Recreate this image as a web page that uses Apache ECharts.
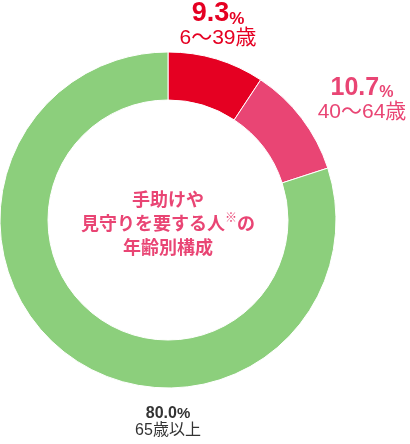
<!DOCTYPE html>
<html><head><meta charset="utf-8">
<script src="https://cdn.jsdelivr.net/npm/echarts@6/dist/echarts.min.js"></script>
<style>html,body{margin:0;padding:0;background:#fff}#c{width:410px;height:444px}</style>
</head><body><div id="c"></div>
<script>
const categories = ['6〜39歳', '40〜64歳', '65歳以上'];
const values = [9.3, 10.7, 80.0];
const colors = ['#e50022', '#e94574', '#8ccf7c'];
const labelColors = ['#e50022', '#e94574', '#333333'];
const centerLines = ['手助けや', '見守りを要する人', '年齢別構成'];

const labelPos = [[218, 26], [362, 100], [168, 421]];
const bigSize = [27, 25, 16];
const pctSize = [17, 16, 15];
const nameSize = [21, 21, 16];
const bigLH = [25, 24, 20];
const nameLH = [22, 22, 19];

const chart = echarts.init(document.getElementById('c'), null, {renderer: 'canvas'});
const FONT = '"Noto Sans CJK JP", sans-serif';
const NUMFONT = '"Liberation Sans", "Noto Sans CJK JP", sans-serif';
const data = values.map((v, i) => ({
  name: categories[i],
  value: v,
  itemStyle: {color: colors[i]},
  label: {
    formatter: '{v|' + v.toFixed(1) + '}{p|%}\n{n|' + categories[i] + '}',
    rich: {
      v: {fontSize: bigSize[i], fontWeight: 'bold', color: labelColors[i], fontFamily: NUMFONT, lineHeight: bigLH[i], verticalAlign: 'bottom'},
      p: {fontSize: pctSize[i], fontWeight: 'bold', color: labelColors[i], fontFamily: NUMFONT, lineHeight: bigLH[i], verticalAlign: 'bottom'},
      n: {fontSize: nameSize[i], color: labelColors[i], fontFamily: NUMFONT, lineHeight: nameLH[i]}
    }
  }
}));

chart.setOption({
  animation: false,
  series: [{
    type: 'pie',
    center: [168, 220],
    radius: [120, 168],
    startAngle: 90,
    clockwise: true,
    silent: true,
    itemStyle: {borderColor: '#ffffff', borderWidth: 1},
    label: {show: true, position: 'outside', align: 'center', overflow: 'none', alignTo: 'none', width: 300},
    labelLine: {show: false},
    labelLayout: function (p) {
      return {x: labelPos[p.dataIndex][0], y: labelPos[p.dataIndex][1], align: 'center', verticalAlign: 'middle'};
    },
    data: data
  }],
  graphic: [{
    type: 'text',
    x: 168, y: 223,
    style: {
      text: '{a|' + centerLines[0] + '}\n{a|' + centerLines[1] + '}{s|※}{a|の}\n{a|' + centerLines[2] + '}',
      align: 'center', verticalAlign: 'middle',
      rich: {
        a: {fontSize: 18, fontWeight: 'bold', fill: '#e94574', fontFamily: FONT, lineHeight: 24},
        s: {fontSize: 12, fill: '#e94574', fontFamily: FONT, lineHeight: 24, verticalAlign: 'top', padding: [0, 0, 8, 0]}
      }
    }
  }]
});
</script></body></html>
